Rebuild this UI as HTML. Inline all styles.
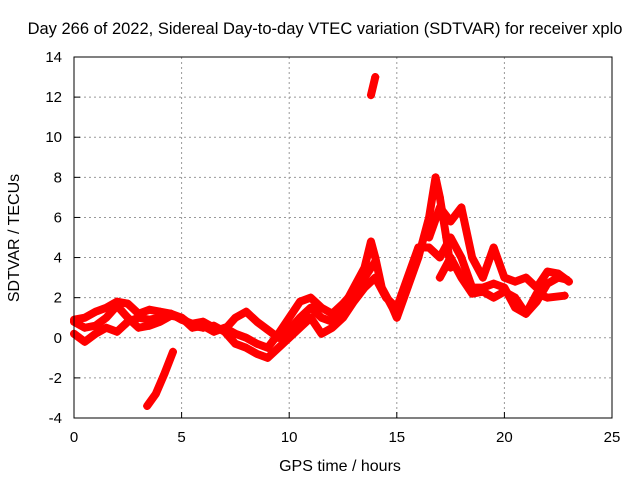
<!DOCTYPE html>
<html><head><meta charset="utf-8"><style>
body{margin:0;background:#fff}
svg{font-family:"Liberation Sans",sans-serif;font-size:15px}
</style></head><body>
<svg id="c" width="640" height="480">
<text x="325" y="34" text-anchor="middle" font-size="16.5">Day 266 of 2022, Sidereal Day-to-day VTEC variation (SDTVAR) for receiver xplo</text>
<text x="340" y="471" text-anchor="middle" font-size="16">GPS time / hours</text>
<text transform="translate(19,238) rotate(-90)" text-anchor="middle" font-size="16">SDTVAR / TECUs</text>
<g id="grid"></g><g id="ticks"></g><g id="data"></g>
<rect x="74" y="57" width="538" height="361" fill="none" stroke="#000"/>
</svg>
<script>
const xTicks=[0,5,10,15,20,25];
const yTicks=[-4,-2,0,2,4,6,8,10,12,14];
const trackA=[[0,0.9],[0.5,1.0],[1,1.3],[1.5,1.5],[2,1.8],[2.5,1.7],[3,1.2],[3.5,1.4],[4,1.3],[4.5,1.2],[5,0.9],[5.5,0.7],[6,0.8],[6.5,0.5],[7,0.4],[7.5,1.0],[8,1.3],[8.5,0.8],[9,0.4],[9.5,0],[10,0.4],[10.5,1.0],[11,1.5],[11.5,1.0],[12,0.8],[12.5,1.5],[13,2.5],[13.5,3.5],[13.8,4.8],[14,4],[14.3,2.5],[14.8,1.5],[15,1.0],[15.5,2.5],[16,4],[16.5,6],[16.8,8],[17,7],[17.3,5],[17.5,3.5]];
const trackB=[[0,0.2],[0.5,-0.2],[1,0.2],[1.5,0.5],[2,0.3],[2.5,0.8],[3,1.0],[3.5,0.9],[4,1.0],[4.5,1.2],[5,1.0],[5.5,0.6],[6,0.5],[6.5,0.6],[7,0.3],[7.5,-0.3],[8,-0.5],[8.5,-0.8],[9,-1.0],[9.5,-0.5],[10,0.0],[10.5,0.5],[11,1],[11.5,0.2],[12,0.5],[12.5,1.0],[13,1.8],[13.5,2.5],[14,3.0],[14.5,2.0],[15,1.5]];
const trackC=[[0,0.8],[0.5,0.5],[1,0.6],[1.5,1.0],[2,1.6],[2.5,1.0],[3,0.5],[3.5,0.6],[4,0.8],[4.5,1.1],[5,1.0],[5.5,0.5],[6,0.6],[6.5,0.3],[7,0.5],[7.5,0.2],[8,0.0],[8.5,-0.3],[9,-0.5],[9.5,0.2],[10,1.0],[10.5,1.8],[11,2.0],[11.5,1.5],[12,1.2],[12.5,1.7],[13,2.3],[13.5,3.0],[14,3.8]];
const trackNeg=[[3.4,-3.4],[3.8,-2.8],[4.2,-1.8],[4.6,-0.7]];
const trackOut=[[13.8,12.1],[14,13]];
const trackD=[[15,1.5],[15.5,3],[16,4.5],[16.5,4.5],[17,4],[17.5,5],[18,4],[18.5,2.5],[19,2.5],[19.5,2.7],[20,2.5],[20.5,1.5],[21,1.2],[21.5,1.8],[22,2.7],[22.5,3],[22.9,2.9]];
const trackE=[[16.5,5],[17,6.5],[17.5,5.8],[18,6.5],[18.5,4],[19,3],[19.5,4.5],[20,3],[20.5,2.8],[21,3],[21.5,2.5],[22,3.3],[22.5,3.2],[23,2.8]];
const trackF=[[17,3.0],[17.5,4],[18,3],[18.5,2.2],[19,2.3],[19.5,2],[20,2.3],[20.5,2],[21,1.2],[21.5,2.2],[22,2],[22.8,2.1]];
const tracks=[trackA,trackB,trackC,trackNeg,trackOut,trackD,trackE,trackF];
const X=v=>74+v*538/25, Y=v=>418-(v+4)*361/18;
const NS="http://www.w3.org/2000/svg";
function mk(t,a,p){const e=document.createElementNS(NS,t);for(const k in a)e.setAttribute(k,a[k]);p.appendChild(e);return e;}
const g=document.getElementById('grid'),tk=document.getElementById('ticks'),d=document.getElementById('data');
xTicks.forEach(v=>{
 if(v>0&&v<25){const l=mk('line',{x1:X(v),x2:X(v),y1:57,y2:418,stroke:'#999','stroke-dasharray':'2,3'},g);
 
 }
 mk('line',{x1:X(v),x2:X(v),y1:418,y2:412,stroke:'#000'},tk);
 const t=mk('text',{x:X(v),y:442,'text-anchor':'middle'},tk);t.textContent=v;
 
 
});
yTicks.forEach(v=>{
 if(v>-4&&v<14){const l=mk('line',{x1:74,x2:612,y1:Y(v),y2:Y(v),stroke:'#999','stroke-dasharray':'2,3'},g);
 
 }
 mk('line',{x1:74,x2:80,y1:Y(v),y2:Y(v),stroke:'#000'},tk);
 const t=mk('text',{x:62,y:Y(v)+5,'text-anchor':'end'},tk);t.textContent=v;
 
 
});
tracks.forEach(tr=>{
 const pl=mk('polyline',{points:tr.map(p=>X(p[0])+','+Y(p[1])).join(' '),fill:'none',stroke:'#f00','stroke-width':8,'stroke-linejoin':'round','stroke-linecap':'round'},d);
 
 
 tr.forEach(p=>{
  const m=mk('path',{d:`M${X(p[0])-4},${Y(p[1])}h8M${X(p[0])},${Y(p[1])-4}v8`,stroke:'#f00','stroke-width':1.5},d);
  
  
 });
});
</script>
</body></html>
